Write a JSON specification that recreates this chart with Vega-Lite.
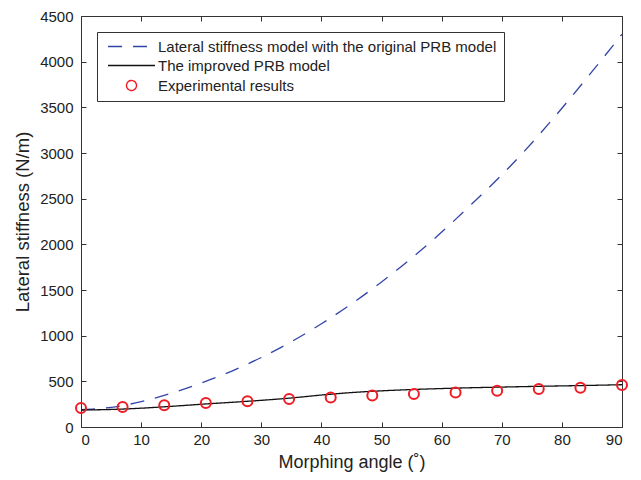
{
  "$schema": "https://vega.github.io/schema/vega-lite/v6.json",
  "width": 541,
  "height": 411,
  "autosize": "none",
  "padding": {"left": 81, "top": 16, "right": 19, "bottom": 53},
  "background": "white",
  "config": {
    "view": {"stroke": "#333", "strokeWidth": 1},
    "font": "Liberation Sans",
    "axis": {
      "grid": false,
      "domain": false,
      "tickColor": "#333",
      "tickSize": -5,
      "format": "d",
      "labelFont": "Liberation Sans",
      "labelFontSize": 15,
      "labelColor": "#222",
      "titleFont": "Liberation Sans",
      "titleFontWeight": "normal",
      "titleColor": "#222"
    },
    "legend": {
      "orient": "none",
      "legendX": 16,
      "legendY": 16,
      "padding": 7,
      "strokeColor": "#333",
      "fillColor": "white",
      "labelFont": "Liberation Sans",
      "labelFontSize": 15,
      "labelColor": "#222",
      "labelLimit": 0,
      "labelOffset": 19,
      "symbolOffset": 20,
      "rowPadding": 3,
      "symbolSize": 100,
      "symbolStrokeWidth": 1.4
    }
  },
  "datasets": {
    "models": [
      {"s": "Lateral stiffness model with the original PRB model", "angle": 0, "k": 190},
      {"s": "Lateral stiffness model with the original PRB model", "angle": 2.5, "k": 198},
      {"s": "Lateral stiffness model with the original PRB model", "angle": 5, "k": 215},
      {"s": "Lateral stiffness model with the original PRB model", "angle": 7.5, "k": 242},
      {"s": "Lateral stiffness model with the original PRB model", "angle": 10, "k": 278},
      {"s": "Lateral stiffness model with the original PRB model", "angle": 15, "k": 370},
      {"s": "Lateral stiffness model with the original PRB model", "angle": 20, "k": 482},
      {"s": "Lateral stiffness model with the original PRB model", "angle": 25, "k": 610},
      {"s": "Lateral stiffness model with the original PRB model", "angle": 30, "k": 761},
      {"s": "Lateral stiffness model with the original PRB model", "angle": 35, "k": 934},
      {"s": "Lateral stiffness model with the original PRB model", "angle": 40, "k": 1130},
      {"s": "Lateral stiffness model with the original PRB model", "angle": 45, "k": 1348},
      {"s": "Lateral stiffness model with the original PRB model", "angle": 50, "k": 1588},
      {"s": "Lateral stiffness model with the original PRB model", "angle": 55, "k": 1850},
      {"s": "Lateral stiffness model with the original PRB model", "angle": 60, "k": 2134},
      {"s": "Lateral stiffness model with the original PRB model", "angle": 65, "k": 2441},
      {"s": "Lateral stiffness model with the original PRB model", "angle": 70, "k": 2760},
      {"s": "Lateral stiffness model with the original PRB model", "angle": 75, "k": 3110},
      {"s": "Lateral stiffness model with the original PRB model", "angle": 80, "k": 3490},
      {"s": "Lateral stiffness model with the original PRB model", "angle": 85, "k": 3890},
      {"s": "Lateral stiffness model with the original PRB model", "angle": 90, "k": 4300},
      {"s": "The improved PRB model", "angle": 0, "k": 186},
      {"s": "The improved PRB model", "angle": 5, "k": 192},
      {"s": "The improved PRB model", "angle": 10, "k": 206},
      {"s": "The improved PRB model", "angle": 15, "k": 226},
      {"s": "The improved PRB model", "angle": 20, "k": 249},
      {"s": "The improved PRB model", "angle": 25, "k": 270},
      {"s": "The improved PRB model", "angle": 30, "k": 292},
      {"s": "The improved PRB model", "angle": 35, "k": 318},
      {"s": "The improved PRB model", "angle": 40, "k": 350},
      {"s": "The improved PRB model", "angle": 45, "k": 377},
      {"s": "The improved PRB model", "angle": 50, "k": 396},
      {"s": "The improved PRB model", "angle": 55, "k": 410},
      {"s": "The improved PRB model", "angle": 60, "k": 421},
      {"s": "The improved PRB model", "angle": 65, "k": 430},
      {"s": "The improved PRB model", "angle": 70, "k": 437},
      {"s": "The improved PRB model", "angle": 75, "k": 444},
      {"s": "The improved PRB model", "angle": 80, "k": 450},
      {"s": "The improved PRB model", "angle": 85, "k": 456},
      {"s": "The improved PRB model", "angle": 90, "k": 463}
    ],
    "exp": [
      {"s": "Experimental results", "angle": 0, "k": 208},
      {"s": "Experimental results", "angle": 6.92, "k": 219},
      {"s": "Experimental results", "angle": 13.85, "k": 237},
      {"s": "Experimental results", "angle": 20.77, "k": 263},
      {"s": "Experimental results", "angle": 27.69, "k": 281},
      {"s": "Experimental results", "angle": 34.62, "k": 307},
      {"s": "Experimental results", "angle": 41.54, "k": 324},
      {"s": "Experimental results", "angle": 48.46, "k": 346},
      {"s": "Experimental results", "angle": 55.38, "k": 361},
      {"s": "Experimental results", "angle": 62.31, "k": 379},
      {"s": "Experimental results", "angle": 69.23, "k": 397},
      {"s": "Experimental results", "angle": 76.15, "k": 416},
      {"s": "Experimental results", "angle": 83.08, "k": 431},
      {"s": "Experimental results", "angle": 90, "k": 460}
    ]
  },
  "layer": [
    {
      "data": {"name": "models"},
      "mark": {"type": "line", "strokeWidth": 1.3, "interpolate": "monotone"},
      "encoding": {
        "x": {
          "field": "angle", "type": "quantitative",
          "scale": {"domain": [0, 90], "nice": false},
          "axis": {"orient": "bottom", "values": [0, 10, 20, 30, 40, 50, 60, 70, 80, 90], "title": "Morphing angle (˚)", "titleFontSize": 18, "labelPadding": 17, "labelBaseline": "middle", "labelLineHeight": 15, "titlePadding": 6}
        },
        "y": {
          "field": "k", "type": "quantitative",
          "scale": {"domain": [0, 4500], "nice": false},
          "axis": {"orient": "left", "values": [0, 500, 1000, 1500, 2000, 2500, 3000, 3500, 4000, 4500], "title": "Lateral stiffness (N/m)", "titleFontSize": 18.5, "labelPadding": 13, "titlePadding": 7}
        },
        "stroke": {
          "field": "s", "type": "nominal",
          "scale": {
            "domain": ["Lateral stiffness model with the original PRB model", "The improved PRB model", "Experimental results"],
            "range": ["#3344a8", "#111111", "#ee1c24"]
          },
          "legend": {"title": null}
        },
        "strokeDash": {
          "field": "s", "type": "nominal",
          "scale": {
            "domain": ["Lateral stiffness model with the original PRB model", "The improved PRB model", "Experimental results"],
            "range": [[14, 11], [1, 0], [1, 0]]
          },
          "legend": {"title": null}
        }
      }
    },
    {
      "data": {"name": "exp"},
      "mark": {"type": "point", "filled": false, "size": 100, "strokeWidth": 2, "opacity": 1},
      "encoding": {
        "x": {
          "field": "angle", "type": "quantitative",
          "axis": {"orient": "top", "values": [0, 10, 20, 30, 40, 50, 60, 70, 80, 90], "labels": false, "title": null}
        },
        "y": {
          "field": "k", "type": "quantitative",
          "axis": {"orient": "right", "values": [0, 500, 1000, 1500, 2000, 2500, 3000, 3500, 4000, 4500], "labels": false, "title": null}
        },
        "stroke": {"field": "s", "type": "nominal", "legend": {"title": null}},
        "shape": {
          "field": "s", "type": "nominal",
          "scale": {
            "domain": ["Lateral stiffness model with the original PRB model", "The improved PRB model", "Experimental results"],
            "range": ["M-4.7,0H4.7", "M-4.7,0H4.7", "M0,-1A1,1 0 1,1 0,1A1,1 0 1,1 0,-1Z"]
          },
          "legend": {"title": null}
        }
      }
    }
  ],
  "resolve": {"axis": {"x": "independent", "y": "independent"}}
}
